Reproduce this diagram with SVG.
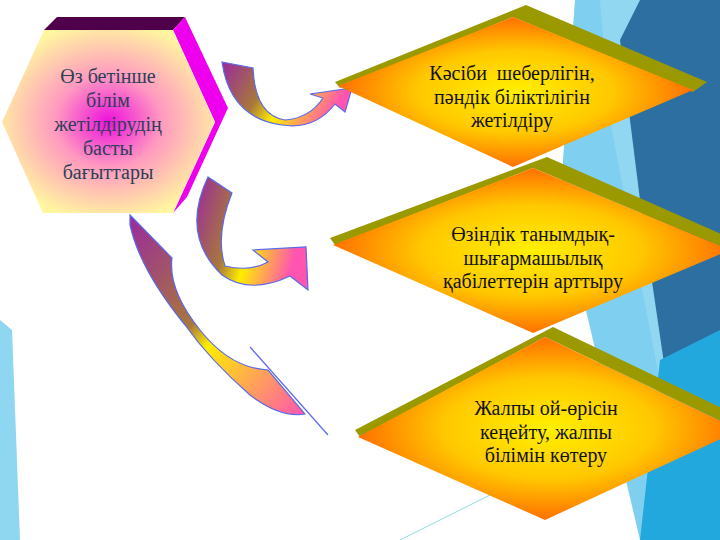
<svg xmlns="http://www.w3.org/2000/svg" width="720" height="540" viewBox="0 0 720 540">
<defs>
<radialGradient id="hexG" cx="0.5" cy="0.5" r="0.55"><stop offset="0" stop-color="#ee11dd"/><stop offset="0.45" stop-color="#ff99c0"/><stop offset="1" stop-color="#fff6a0"/></radialGradient>
<radialGradient id="diaG" cx="0.5" cy="0.5" r="0.5"><stop offset="0" stop-color="#fff000"/><stop offset="0.55" stop-color="#ffc800"/><stop offset="1" stop-color="#ff7000"/></radialGradient>
<linearGradient id="arG" x1="0" y1="0" x2="1" y2="0.3"><stop offset="0" stop-color="#9a2a9e"/><stop offset="0.4" stop-color="#a8783a"/><stop offset="0.6" stop-color="#ffee00"/><stop offset="1" stop-color="#ff55b0"/></linearGradient>
<linearGradient id="arG3" x1="0" y1="0" x2="1" y2="1"><stop offset="0" stop-color="#9a2a9e"/><stop offset="0.45" stop-color="#a8783a"/><stop offset="0.55" stop-color="#ffee00"/><stop offset="1" stop-color="#ff55b0"/></linearGradient>
<style>
.ar{stroke:#5a6ae8;stroke-width:1.2}
.t{font-family:"Liberation Serif",serif;font-size:20px;text-anchor:middle}
.ht{fill:#2b4058}
.dt{fill:#111}
.ol{fill:#9a9a00}
</style>
</defs>
<g id="background">
<rect width="720" height="540" fill="#fff"/>
<polygon points="575,0 720,0 720,540 640,540 560,200" fill="#7fd0f0"/>
<polygon points="600,0 720,0 720,540 690,540 610,120" fill="#9fdcf4" opacity="0.6"/>
<polygon points="640,0 720,0 720,540 690,540 640,200 620,40" fill="#2e6fa2"/>
<polygon points="660,360 720,330 720,540 640,540" fill="#22a8dc"/>
<polygon points="0,320 12,330 20,540 0,540" fill="#8fd6f0"/>
<line x1="400" y1="540" x2="600" y2="440" stroke="#8fd6f0" stroke-width="1"/>
</g>
<g id="hexagon">
<polygon points="44,30 57,17 185,17 173,30" fill="#50004a"/>
<polygon points="173,30 185,17 228,108 187,197 173,213 215,122" fill="#ee00ee"/>
<polygon points="44,30 173,30 215,122 173,213 43,213 2,122" fill="url(#hexG)"/>
<text class="t ht" x="108" y="83">Өз бетінше</text>
<text class="t ht" x="108" y="107">білім</text>
<text class="t ht" x="108" y="131">жетілдірудің</text>
<text class="t ht" x="108" y="155">басты</text>
<text class="t ht" x="108" y="179">бағыттары</text>
</g>
<g id="connectors">
<path class="ar" fill="url(#arG)" d="M222,62 L253,68 Q255,115 285,120 Q310,118 323,98 L310,94 L352,88 L345,112 L335,104 Q315,130 282,125 Q230,118 222,62 Z"/>
<path class="ar" fill="url(#arG)" d="M208,177 L232,193 Q215,235 225,266 Q250,272 268,262 L253,250 L306,247 L308,290 L290,276 Q250,295 222,275 Q180,235 208,177 Z"/>
<path class="ar" fill="url(#arG3)" d="M130,215 L172,258 Q168,290 200,330 Q230,368 268,370 L305,414 Q280,418 250,395 Q210,360 185,325 Q140,270 130,225 Z"/>
<line x1="250" y1="347" x2="328" y2="435" stroke="#5a6ae8" stroke-width="1.2"/>
</g>
<g id="node1">
<polygon class="ol" points="335,82 526,5 707,82 693,92 513,17 340,88"/>
<polygon points="338,86 513,17 693,90 513,167" fill="url(#diaG)"/>
<text class="t dt" x="512" y="80">Кәсіби&#160; шеберлігін,</text>
<text class="t dt" x="512" y="104">пәндік біліктілігін</text>
<text class="t dt" x="512" y="127">жетілдіру</text>
</g>
<g id="node2">
<polygon class="ol" points="330,238 547,157 730,238 730,250 533,168 335,245"/>
<polygon points="333,245 533,168 730,250 533,333" fill="url(#diaG)"/>
<text class="t dt" x="533" y="241">Өзіндік танымдық-</text>
<text class="t dt" x="533" y="265">шығармашылық</text>
<text class="t dt" x="533" y="288">қабілеттерін арттыру</text>
</g>
<g id="node3">
<polygon class="ol" points="355,430 553,327 730,412 730,425 545,337 360,437"/>
<polygon points="358,437 545,337 740,430 545,520" fill="url(#diaG)"/>
<text class="t dt" x="546" y="415">Жалпы ой-өрісін</text>
<text class="t dt" x="546" y="439">кеңейту, жалпы</text>
<text class="t dt" x="546" y="462">білімін көтеру</text>
</g>
</svg>
